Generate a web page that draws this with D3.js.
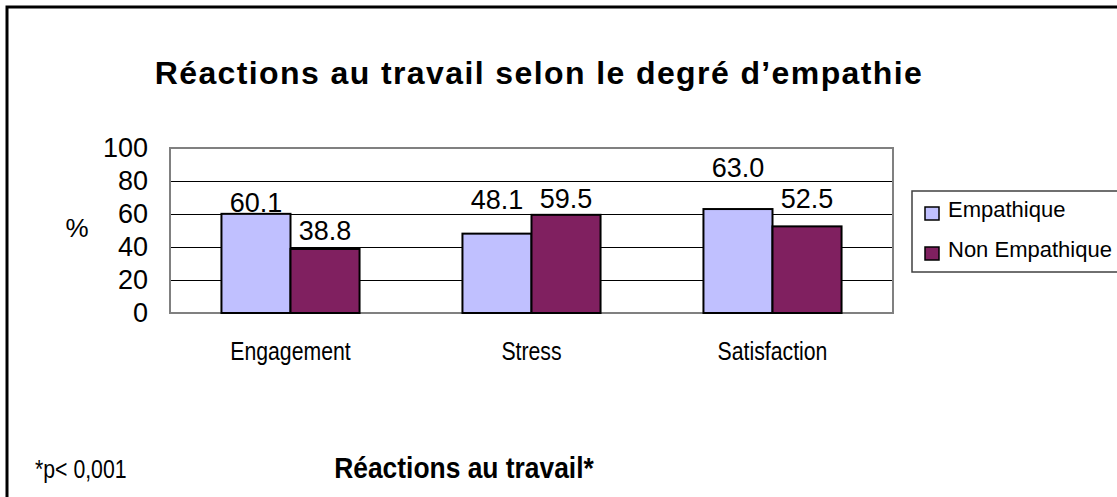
<!DOCTYPE html>
<html>
<head>
<meta charset="utf-8">
<script src="https://cdn.jsdelivr.net/npm/d3@7/dist/d3.min.js"></script>
<style>
body { margin: 0; background: #fff; }
svg text { font-family: "Liberation Sans", Arial, sans-serif; fill: #000; }
</style>
</head>
<body>
<svg id="chart" width="1117" height="497"></svg>
<script>
// data
var categories = ["Engagement", "Stress", "Satisfaction"];
var seriesNames = ["Empathique", "Non Empathique"];
var empathique = [60.1, 48.1, 63.0];
var nonEmpathique = [38.8, 59.5, 52.5];
var yTicks = [0, 20, 40, 60, 80, 100];

var colors = ["#c0c0ff", "#802060"];
// value labels were nudged by hand in the original, lift in px above bar top
var labelDy = [[2, 9], [25, 7], [32, 18]];

var svg = d3.select("#chart");
var W = 1117, H = 497;

var plot = {left: 170, top: 148, right: 893, bottom: 313};

// squeeze a text horizontally (the original fonts look condensed)
function squeeze(sel, k) {
  sel.each(function() {
    var w = this.getComputedTextLength();
    d3.select(this).attr("textLength", w * k).attr("lengthAdjust", "spacingAndGlyphs");
  });
}

// outer frame
svg.append("rect")
  .attr("x", 7).attr("y", 7)
  .attr("width", W + 20).attr("height", H + 20)
  .attr("fill", "none")
  .attr("stroke", "#000")
  .attr("stroke-width", 3);

svg.append("text")
  .attr("x", 539).attr("y", 84)
  .attr("text-anchor", "middle")
  .style("font-weight", "bold")
  .style("font-size", "32px")
  .style("letter-spacing", "1.4px")
  .text("Réactions au travail selon le degré d’empathie");

var x0 = d3.scaleBand()
  .domain(categories)
  .range([plot.left, plot.right])
  .paddingInner(0.427)
  .paddingOuter(0.2135);

var x1 = d3.scaleBand()
  .domain(seriesNames)
  .range([0, x0.bandwidth()]);

var y = d3.scaleLinear()
  .domain([0, 100])
  .range([plot.bottom, plot.top]);

// gridlines
svg.append("g")
  .selectAll("line")
  .data(yTicks.filter(function(d) { return d > 0 && d < 100; }))
  .enter().append("line")
  .attr("x1", plot.left).attr("x2", plot.right)
  .attr("y1", function(d) { return Math.round(y(d)) + 0.5; })
  .attr("y2", function(d) { return Math.round(y(d)) + 0.5; })
  .attr("stroke", "#000")
  .attr("stroke-width", 1);

// plot border
svg.append("rect")
  .attr("x", plot.left).attr("y", plot.top)
  .attr("width", plot.right - plot.left)
  .attr("height", plot.bottom - plot.top)
  .attr("fill", "none")
  .attr("stroke", "#808080")
  .attr("stroke-width", 2);

// y axis labels
var yAxis = d3.axisLeft(y).tickValues(yTicks).tickSize(0).tickPadding(22);
var ya = svg.append("g")
  .attr("transform", "translate(" + plot.left + ",0)")
  .call(yAxis);
ya.select(".domain").remove();
ya.selectAll("text")
  .style("font-size", "27px")
  .style("font-family", "'Liberation Sans', Arial, sans-serif");

svg.append("text")
  .attr("x", 77).attr("y", 237)
  .attr("text-anchor", "middle")
  .style("font-size", "26px")
  .text("%");

// bars
var rows = categories.map(function(c, i) {
  return {cat: c, i: i, vals: [empathique[i], nonEmpathique[i]]};
});

var groups = svg.append("g")
  .selectAll("g")
  .data(rows)
  .enter().append("g")
  .attr("transform", function(d) { return "translate(" + x0(d.cat) + ",0)"; });

groups.selectAll("rect")
  .data(function(d) { return d.vals.map(function(v, j) { return {v: v, j: j}; }); })
  .enter().append("rect")
  .attr("x", function(d) { return x1(seriesNames[d.j]); })
  .attr("y", function(d) { return y(d.v); })
  .attr("width", x1.bandwidth())
  .attr("height", function(d) { return y(0) - y(d.v); })
  .attr("fill", function(d) { return colors[d.j]; })
  .attr("stroke", "#000")
  .attr("stroke-width", 2);

groups.selectAll("text")
  .data(function(d) { return d.vals.map(function(v, j) { return {v: v, j: j, i: d.i}; }); })
  .enter().append("text")
  .attr("x", function(d) { return x1(seriesNames[d.j]) + x1.bandwidth() / 2; })
  .attr("y", function(d) { return y(d.v) - labelDy[d.i][d.j]; })
  .attr("text-anchor", "middle")
  .style("font-size", "27px")
  .text(function(d) { return d3.format(".1f")(d.v); });

// category labels
svg.append("g")
  .selectAll("text")
  .data(categories)
  .enter().append("text")
  .attr("x", function(d) { return x0(d) + x0.bandwidth() / 2; })
  .attr("y", 360)
  .attr("text-anchor", "middle")
  .style("font-size", "25px")
  .text(function(d) { return d; })
  .call(squeeze, 0.85);

// legend
var legend = svg.append("g").attr("transform", "translate(912,191)");
legend.append("rect")
  .attr("x", 0).attr("y", 0)
  .attr("width", 230).attr("height", 81)
  .attr("fill", "#fff")
  .attr("stroke", "#404040")
  .attr("stroke-width", 1.5);

var li = legend.selectAll(".item")
  .data(seriesNames)
  .enter().append("g")
  .attr("class", "item")
  .attr("transform", function(d, i) { return "translate(0," + (i * 40) + ")"; });

li.append("rect")
  .attr("x", 13).attr("y", 16)
  .attr("width", 14).attr("height", 13)
  .attr("fill", function(d, i) { return colors[i]; })
  .attr("stroke", "#000")
  .attr("stroke-width", 1.5);

li.append("text")
  .attr("x", 36).attr("y", 26)
  .style("font-size", "22px")
  .text(function(d) { return d; });

// footer
svg.append("text")
  .attr("x", 35).attr("y", 478)
  .style("font-size", "25px")
  .text("*p< 0,001")
  .call(squeeze, 0.85);

svg.append("text")
  .attr("x", 464).attr("y", 478)
  .attr("text-anchor", "middle")
  .style("font-weight", "bold")
  .style("font-size", "29px")
  .text("Réactions au travail*")
  .call(squeeze, 0.91);
</script>
</body>
</html>
